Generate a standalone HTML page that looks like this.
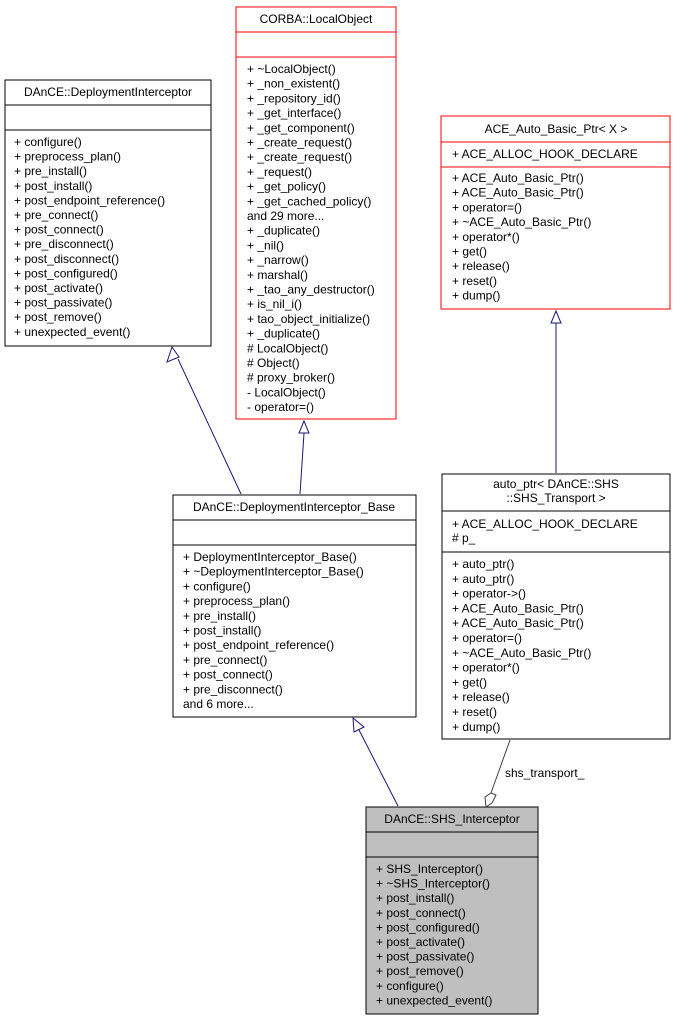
<!DOCTYPE html>
<html><head><meta charset="utf-8"><style>
html,body{margin:0;padding:0;background:#fff;}
svg{display:block;}
text{font-family:"Liberation Sans",Arial,sans-serif;font-size:12px;fill:#000;}
</style></head><body>
<svg width="676" height="1021" viewBox="0 0 676 1021" xmlns="http://www.w3.org/2000/svg">
<!-- DeploymentInterceptor -->
<g>
<rect x="5" y="80" width="206" height="266" fill="#fff" stroke="#000" stroke-width="1"/>
<line x1="5" y1="105" x2="211" y2="105" stroke="#000"/>
<line x1="5" y1="130" x2="211" y2="130" stroke="#000"/>
<text x="108" y="96" text-anchor="middle">DAnCE::DeploymentInterceptor</text>
<text x="14" y="146">+ configure()</text>
<text x="14" y="160.6">+ preprocess_plan()</text>
<text x="14" y="175.2">+ pre_install()</text>
<text x="14" y="189.8">+ post_install()</text>
<text x="14" y="204.4">+ post_endpoint_reference()</text>
<text x="14" y="219">+ pre_connect()</text>
<text x="14" y="233.6">+ post_connect()</text>
<text x="14" y="248.2">+ pre_disconnect()</text>
<text x="14" y="262.8">+ post_disconnect()</text>
<text x="14" y="277.4">+ post_configured()</text>
<text x="14" y="292">+ post_activate()</text>
<text x="14" y="306.6">+ post_passivate()</text>
<text x="14" y="321.2">+ post_remove()</text>
<text x="14" y="335.8">+ unexpected_event()</text>
</g>
<!-- LocalObject -->
<g>
<rect x="236" y="7" width="160" height="412" fill="#fff" stroke="#f00" stroke-width="1"/>
<line x1="236" y1="32" x2="396" y2="32" stroke="#f00"/>
<line x1="236" y1="57" x2="396" y2="57" stroke="#f00"/>
<text x="316" y="23" text-anchor="middle">CORBA::LocalObject</text>
<text x="247" y="73">+ ~LocalObject()</text>
<text x="247" y="87.7">+ _non_existent()</text>
<text x="247" y="102.4">+ _repository_id()</text>
<text x="247" y="117.1">+ _get_interface()</text>
<text x="247" y="131.8">+ _get_component()</text>
<text x="247" y="146.5">+ _create_request()</text>
<text x="247" y="161.2">+ _create_request()</text>
<text x="247" y="175.9">+ _request()</text>
<text x="247" y="190.6">+ _get_policy()</text>
<text x="247" y="205.3">+ _get_cached_policy()</text>
<text x="247" y="220">and 29 more...</text>
<text x="247" y="234.7">+ _duplicate()</text>
<text x="247" y="249.4">+ _nil()</text>
<text x="247" y="264.1">+ _narrow()</text>
<text x="247" y="278.8">+ marshal()</text>
<text x="247" y="293.5">+ _tao_any_destructor()</text>
<text x="247" y="308.2">+ is_nil_i()</text>
<text x="247" y="322.9">+ tao_object_initialize()</text>
<text x="247" y="337.6">+ _duplicate()</text>
<text x="247" y="352.3"># LocalObject()</text>
<text x="247" y="367"># Object()</text>
<text x="247" y="381.7"># proxy_broker()</text>
<text x="247" y="396.4">- LocalObject()</text>
<text x="247" y="411.1">- operator=()</text>
</g>
<!-- ACE_Auto_Basic_Ptr -->
<g>
<rect x="441" y="116" width="229" height="193" fill="#fff" stroke="#f00" stroke-width="1"/>
<line x1="441" y1="142" x2="670" y2="142" stroke="#f00"/>
<line x1="441" y1="167" x2="670" y2="167" stroke="#f00"/>
<text x="556" y="133" text-anchor="middle">ACE_Auto_Basic_Ptr&lt; X &gt;</text>
<text x="452" y="158">+ ACE_ALLOC_HOOK_DECLARE</text>
<text x="452" y="182">+ ACE_Auto_Basic_Ptr()</text>
<text x="452" y="196.7">+ ACE_Auto_Basic_Ptr()</text>
<text x="452" y="211.4">+ operator=()</text>
<text x="452" y="226.1">+ ~ACE_Auto_Basic_Ptr()</text>
<text x="452" y="240.8">+ operator*()</text>
<text x="452" y="255.5">+ get()</text>
<text x="452" y="270.2">+ release()</text>
<text x="452" y="284.9">+ reset()</text>
<text x="452" y="299.6">+ dump()</text>
</g>
<!-- DeploymentInterceptor_Base -->
<g>
<rect x="173" y="495" width="243" height="222" fill="#fff" stroke="#000" stroke-width="1"/>
<line x1="173" y1="520" x2="416" y2="520" stroke="#000"/>
<line x1="173" y1="545" x2="416" y2="545" stroke="#000"/>
<text x="294" y="511" text-anchor="middle">DAnCE::DeploymentInterceptor_Base</text>
<text x="183" y="561">+ DeploymentInterceptor_Base()</text>
<text x="183" y="575.7">+ ~DeploymentInterceptor_Base()</text>
<text x="183" y="590.4">+ configure()</text>
<text x="183" y="605.1">+ preprocess_plan()</text>
<text x="183" y="619.8">+ pre_install()</text>
<text x="183" y="634.5">+ post_install()</text>
<text x="183" y="649.2">+ post_endpoint_reference()</text>
<text x="183" y="663.9">+ pre_connect()</text>
<text x="183" y="678.6">+ post_connect()</text>
<text x="183" y="693.3">+ pre_disconnect()</text>
<text x="183" y="708">and 6 more...</text>
</g>
<!-- auto_ptr -->
<g>
<rect x="442" y="474" width="228" height="265" fill="#fff" stroke="#000" stroke-width="1"/>
<line x1="442" y1="511" x2="670" y2="511" stroke="#000"/>
<line x1="442" y1="552" x2="670" y2="552" stroke="#000"/>
<text x="556" y="488" text-anchor="middle">auto_ptr&lt; DAnCE::SHS</text>
<text x="556" y="502" text-anchor="middle">::SHS_Transport &gt;</text>
<text x="452" y="528">+ ACE_ALLOC_HOOK_DECLARE</text>
<text x="452" y="542"># p_</text>
<text x="452" y="568">+ auto_ptr()</text>
<text x="452" y="582.8">+ auto_ptr()</text>
<text x="452" y="597.6">+ operator-&gt;()</text>
<text x="452" y="612.4">+ ACE_Auto_Basic_Ptr()</text>
<text x="452" y="627.2">+ ACE_Auto_Basic_Ptr()</text>
<text x="452" y="642">+ operator=()</text>
<text x="452" y="656.8">+ ~ACE_Auto_Basic_Ptr()</text>
<text x="452" y="671.6">+ operator*()</text>
<text x="452" y="686.4">+ get()</text>
<text x="452" y="701.2">+ release()</text>
<text x="452" y="716">+ reset()</text>
<text x="452" y="730.8">+ dump()</text>
</g>
<!-- SHS_Interceptor -->
<g>
<rect x="366" y="807" width="172" height="207" fill="#bfbfbf" stroke="#000" stroke-width="1"/>
<line x1="366" y1="832" x2="538" y2="832" stroke="#000"/>
<line x1="366" y1="857" x2="538" y2="857" stroke="#000"/>
<text x="452" y="823" text-anchor="middle">DAnCE::SHS_Interceptor</text>
<text x="376" y="873">+ SHS_Interceptor()</text>
<text x="376" y="887.6">+ ~SHS_Interceptor()</text>
<text x="376" y="902.2">+ post_install()</text>
<text x="376" y="916.8">+ post_connect()</text>
<text x="376" y="931.4">+ post_configured()</text>
<text x="376" y="946">+ post_activate()</text>
<text x="376" y="960.6">+ post_passivate()</text>
<text x="376" y="975.2">+ post_remove()</text>
<text x="376" y="989.8">+ configure()</text>
<text x="376" y="1004.4">+ unexpected_event()</text>
</g>
<!-- connectors -->
<g stroke="#191970" stroke-width="1" fill="#fff">
<line x1="241" y1="494" x2="178" y2="359"/>
<polygon points="172,347 167,362 179,357"/>
<line x1="300" y1="494" x2="304" y2="433"/>
<polygon points="304,421 299,433 309,433"/>
<line x1="556" y1="473" x2="556" y2="323"/>
<polygon points="556,311 551,323 561,323"/>
<line x1="398" y1="806" x2="359" y2="730"/>
<polygon points="353,718 354,732 364,727"/>
</g>
<g stroke="#404040" stroke-width="1" fill="#fff">
<line x1="510" y1="740" x2="491" y2="793"/>
<polygon points="491,793 485,797 486,807 492,803 496,795"/>
</g>
<text x="505" y="777">shs_transport_</text>
</svg>
</body></html>
